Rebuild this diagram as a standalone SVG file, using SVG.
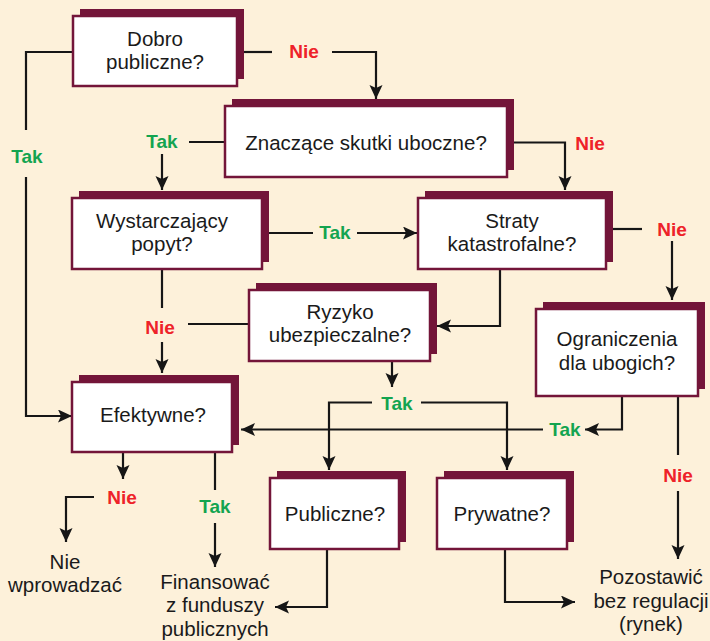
<svg xmlns="http://www.w3.org/2000/svg" width="710" height="641" viewBox="0 0 710 641">
<defs>
<marker id="ah" markerUnits="userSpaceOnUse" markerWidth="15" markerHeight="14" refX="14" refY="6.5" orient="auto" viewBox="0 0 15 14">
<path d="M0,0 L14,6.5 L0,13 L3,6.5 z" fill="#161616"/>
</marker>
</defs>
<style>
.sh{fill:#731539}
.bx{fill:#fff;stroke:#731539;stroke-width:2.5}
.t{font-family:"Liberation Sans",Arial,sans-serif;font-size:20.5px;fill:#1a1a1a;text-anchor:middle}
.y{font-family:"Liberation Sans",Arial,sans-serif;font-size:19px;font-weight:bold;fill:#13a450;text-anchor:middle}
.n{font-family:"Liberation Sans",Arial,sans-serif;font-size:19px;font-weight:bold;fill:#ee2229;text-anchor:middle}
.c{fill:none;stroke:#161616;stroke-width:2.2}
.a{marker-end:url(#ah)}
</style>
<rect width="710" height="641" fill="#fdf1da"/>
<g id="connectors">
<path class="c" d="M73,52 H26 V130"/>
<path class="c a" d="M26,177 V416 H72"/>
<path class="c" d="M244,52 H272"/>
<path class="c a" d="M332,52 H376 V99"/>
<path class="c" d="M225,142 H189"/>
<path class="c a" d="M162,154 V190"/>
<path class="c a" d="M514,142.5 H565 V190"/>
<path class="c" d="M268,233 H313"/>
<path class="c a" d="M357,233 H417"/>
<path class="c" d="M162,269 V308"/>
<path class="c a" d="M162,342 V373"/>
<path class="c" d="M249,324 H188"/>
<path class="c a" d="M500,269 V326 H437"/>
<path class="c" d="M613,229 H642"/>
<path class="c a" d="M672,241 V300"/>
<path class="c a" d="M392,361 V387"/>
<path class="c a" d="M372,402.5 H329 V470"/>
<path class="c a" d="M421,402.5 H507 V470"/>
<path class="c a" d="M622,396 V429.5 H585"/>
<path class="c a" d="M543,429.5 H241"/>
<path class="c" d="M678,396 V455"/>
<path class="c a" d="M678,491 V559"/>
<path class="c a" d="M123,452 V479"/>
<path class="c a" d="M94,497 H66 V542"/>
<path class="c" d="M215,452 V490"/>
<path class="c a" d="M215,523 V567"/>
<path class="c a" d="M327,549 V607 H275"/>
<path class="c a" d="M505,549 V602 H575"/>
</g>
<g id="labels">
<text class="y" x="27" y="163">Tak</text>
<text class="n" x="304" y="58">Nie</text>
<text class="y" x="162" y="148">Tak</text>
<text class="n" x="590" y="150">Nie</text>
<text class="y" x="335" y="239">Tak</text>
<text class="n" x="160" y="334">Nie</text>
<text class="n" x="672" y="236">Nie</text>
<text class="y" x="397" y="410">Tak</text>
<text class="y" x="565" y="436">Tak</text>
<text class="n" x="678" y="482">Nie</text>
<text class="n" x="122" y="504">Nie</text>
<text class="y" x="215" y="513">Tak</text>
</g>
<g id="n1"><rect class="sh" x="80" y="9" width="164" height="70"/><rect class="bx" x="73" y="16" width="164" height="70"/><text class="t" x="155" y="45.5">Dobro</text><text class="t" x="155" y="69">publiczne?</text></g>
<g id="n2"><rect class="sh" x="232" y="99" width="282" height="71"/><rect class="bx" x="225" y="106" width="282" height="71"/><text class="t" x="366" y="150">Znaczące skutki uboczne?</text></g>
<g id="n3"><rect class="sh" x="79" y="191" width="190" height="71"/><rect class="bx" x="72" y="198" width="190" height="71"/><text class="t" x="162" y="227.5">Wystarczający</text><text class="t" x="162" y="251">popyt?</text></g>
<g id="n4"><rect class="sh" x="425" y="191" width="188" height="71"/><rect class="bx" x="418" y="198" width="188" height="71"/><text class="t" x="512" y="227.5">Straty</text><text class="t" x="512" y="251">katastrofalne?</text></g>
<g id="n5"><rect class="sh" x="256" y="283" width="181" height="71"/><rect class="bx" x="249" y="290" width="181" height="71"/><text class="t" x="340" y="318.5">Ryzyko</text><text class="t" x="340" y="342">ubezpieczalne?</text></g>
<g id="n6"><rect class="sh" x="543" y="302" width="162" height="87"/><rect class="bx" x="536" y="309" width="162" height="87"/><text class="t" x="617" y="346">Ograniczenia</text><text class="t" x="617" y="369.5">dla ubogich?</text></g>
<g id="n7"><rect class="sh" x="79" y="375" width="160" height="70"/><rect class="bx" x="72" y="382" width="160" height="70"/><text class="t" x="153" y="422">Efektywne?</text></g>
<g id="n8"><rect class="sh" x="277" y="471" width="129" height="71"/><rect class="bx" x="270" y="478" width="129" height="71"/><text class="t" x="335" y="521">Publiczne?</text></g>
<g id="n9"><rect class="sh" x="444" y="471" width="130" height="71"/><rect class="bx" x="437" y="478" width="130" height="71"/><text class="t" x="502" y="521">Prywatne?</text></g>
<g id="n10"><text class="t" x="65" y="568.5">Nie</text><text class="t" x="65" y="592">wprowadzać</text></g>
<g id="n11"><text class="t" x="215" y="588.5">Finansować</text><text class="t" x="215" y="612">z funduszy</text><text class="t" x="215" y="635.5">publicznych</text></g>
<g id="n12"><text class="t" x="651" y="584">Pozostawić</text><text class="t" x="651" y="607.5">bez regulacji</text><text class="t" x="651" y="631">(rynek)</text></g>
</svg>
